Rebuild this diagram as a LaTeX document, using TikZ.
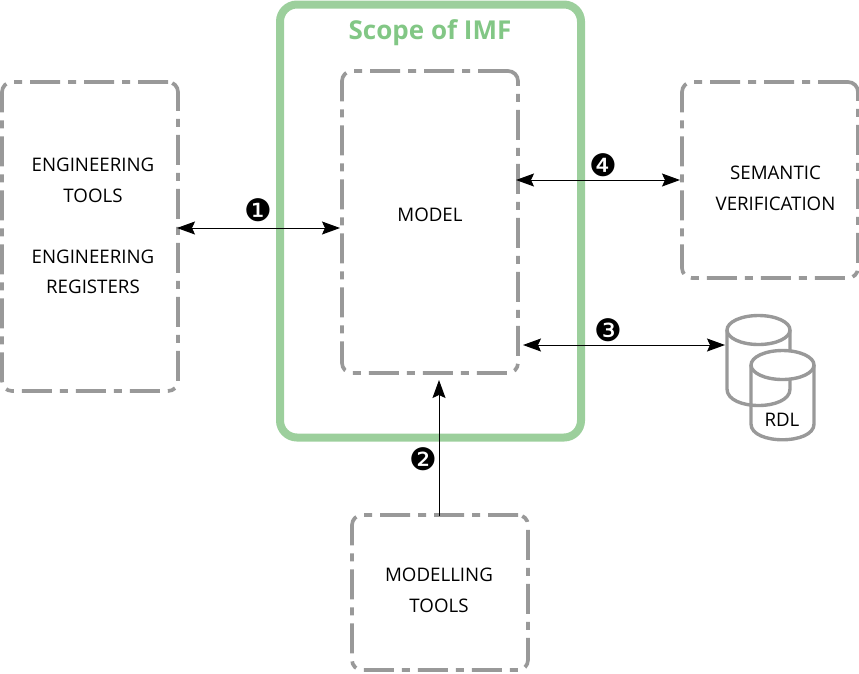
\documentclass[tikz,border=0pt]{standalone}
\usepackage{fontspec}
\setmainfont{Open Sans}
\newfontfamily\dingfont{DejaVu Sans}
\usetikzlibrary{arrows.meta,positioning}
\definecolor{scopegreen}{HTML}{9CCF9C}
\definecolor{scopetext}{HTML}{82C785}
\definecolor{boxgray}{HTML}{999999}
\tikzset{
  x=1pt,y=-1pt,
  dashbox/.style={draw=boxgray,line width=3.7pt,rounded corners=10pt,dash pattern=on 30pt off 8pt on 8pt off 8pt,minimum width=#1,anchor=north west,inner sep=0pt,outer sep=0pt},
  lbl/.style={font=\fontsize{18.7pt}{30.5pt}\selectfont,align=center,text=black,inner sep=0pt},
  num/.style={font=\dingfont\fontsize{31pt}{31pt}\selectfont,inner sep=0pt,text=black},
  conn/.style={line width=1pt,draw=black,{Stealth[length=18pt,width=13pt,inset=3pt]}-{Stealth[length=18pt,width=13pt,inset=3pt]}},
  connone/.style={line width=1pt,draw=black,-{Stealth[length=18pt,width=13pt,inset=3pt]}},
  cyl/.style={draw=boxgray,line width=3.4pt,fill=white},
}
\begin{document}
\begin{tikzpicture}
\useasboundingbox (0,0) rectangle (859,673);
% scope
\node[draw=scopegreen,line width=8pt,rounded corners=17pt,minimum width=301pt,minimum height=433pt,anchor=north west,inner sep=0pt,outer sep=0pt] (scope) at (280,4.5) {};
\node[font=\bfseries\fontsize{26pt}{30pt}\selectfont,text=scopetext,inner sep=0pt] (scopelbl) at (430,33) {Scope of IMF};
% boxes
\node[dashbox=176pt,minimum height=309pt] (tools) at (2,82) {};
\node[dashbox=176pt,minimum height=302pt] (model) at (342,71) {};
\node[dashbox=176pt,minimum height=196pt] (sem) at (682,82) {};
\node[dashbox=176pt,minimum height=155pt] (mod) at (352,515) {};
% texts
\node[lbl] (t1) at (93,180.5) {ENGINEERING\\TOOLS};
\node[lbl] (t2) at (93,272) {ENGINEERING\\REGISTERS};
\node[lbl] (t3) at (430,215) {MODEL};
\node[lbl] (t4) at (775.5,188.5) {SEMANTIC\\VERIFICATION};
\node[lbl] (t5) at (439,590.5) {MODELLING\\TOOLS};
% database
\draw[cyl] (727,330) -- (727,389) .. controls (727,411) and (790,411) .. (790,389) -- (790,330);
\draw[cyl] (758.5,330) ellipse[x radius=31.5pt,y radius=14.5pt];
\draw[draw=boxgray,line width=3.4pt] (751,365) -- (751,424) .. controls (751,445) and (814,445) .. (814,424) -- (814,365);
\draw[cyl] (782.5,365) ellipse[x radius=31.5pt,y radius=14.5pt];
\node[lbl] (rdl) at (782,420) {RDL};
% anchors for connectors
\coordinate (a1) at (177,228);
\coordinate (b1) at (340,228);
\coordinate (a4) at (516,180);
\coordinate (b4) at (680,180);
\coordinate (a3) at (523,345);
\coordinate (b3) at (725,345);
\coordinate (a2) at (439,516);
\coordinate (b2) at (439,380);
\draw[conn] (a1) -- (b1);
\draw[conn] (a4) -- (b4);
\draw[conn] (a3) -- (b3);
\draw[connone] (a2) -- (b2);
\node[num] (n1) at (258,210) {❶};
\node[num] (n2) at (423,459) {❷};
\node[num] (n3) at (608,330) {❸};
\node[num] (n4) at (603,165) {❹};
\end{tikzpicture}
\end{document}
